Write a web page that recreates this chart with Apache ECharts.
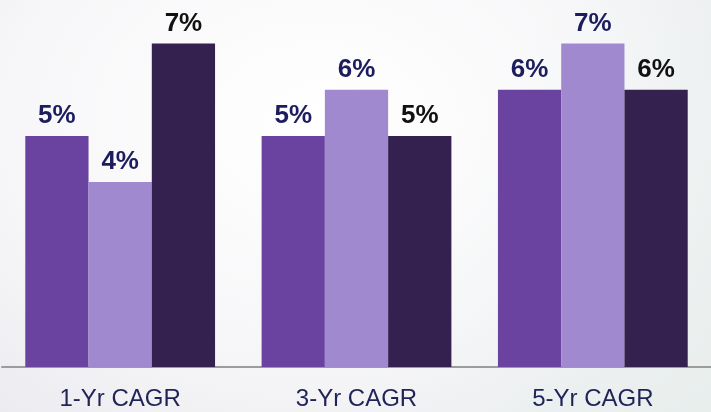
<!DOCTYPE html>
<html>
<head>
<meta charset="utf-8">
<script src="https://cdn.jsdelivr.net/npm/echarts@6/dist/echarts.min.js"></script>
<style>
    html, body {
        margin: 0;
        padding: 0;
    }
    #chart {
        width: 711px;
        height: 412px;
        background:
            linear-gradient(115deg, rgba(255,255,255,0) 0%, rgba(255,255,255,0) 60%, rgba(232,240,236,0.7) 100%),
            radial-gradient(ellipse at 45% 30%, #ffffff 0%, #f7f7f9 55%, #e9e9ee 100%);
    }
</style>
</head>
<body>
<div id="chart"></div>
<script>
    const categories = ['1-Yr CAGR', '3-Yr CAGR', '5-Yr CAGR']
    const seriesA = [5, 5, 6]
    const seriesB = [4, 6, 7]
    const seriesC = [7, 5, 6]

    const colors = ['#6a42a0', '#a189cf', '#35214f']
    const labelColors = ['#1c1c5e', '#1c1c5e', '#111111']

    const myChart = echarts.init(document.getElementById('chart'))

    const makeSeries = (data, i) => ({
        type: 'bar',
        data: data,
        barGap: '0%',
        barCategoryGap: '19.7%',
        itemStyle: { color: colors[i] },
        label: {
            show: true,
            position: 'top',
            distance: 7,
            formatter: '{c}%',
            color: labelColors[i],
            fontSize: 26,
            fontWeight: 'bold',
            fontFamily: 'Liberation Sans, Arial, sans-serif'
        },
        emphasis: { disabled: true }
    })

    const option = {
        animation: false,
        grid: {
            left: 2,
            right: 0,
            top: 0,
            bottom: 45
        },
        xAxis: {
            type: 'category',
            data: categories,
            axisLine: { lineStyle: { color: '#9c9c9c', width: 2 } },
            axisTick: { show: false },
            axisLabel: {
                color: '#1f2357',
                fontSize: 24,
                margin: 20,
                fontFamily: 'Liberation Sans, Arial, sans-serif'
            }
        },
        yAxis: {
            type: 'value',
            min: 0,
            max: 7.94,
            show: false,
            splitLine: { show: false }
        },
        series: [seriesA, seriesB, seriesC].map(makeSeries)
    }
    myChart.setOption(option)
</script>
</body>
</html>
